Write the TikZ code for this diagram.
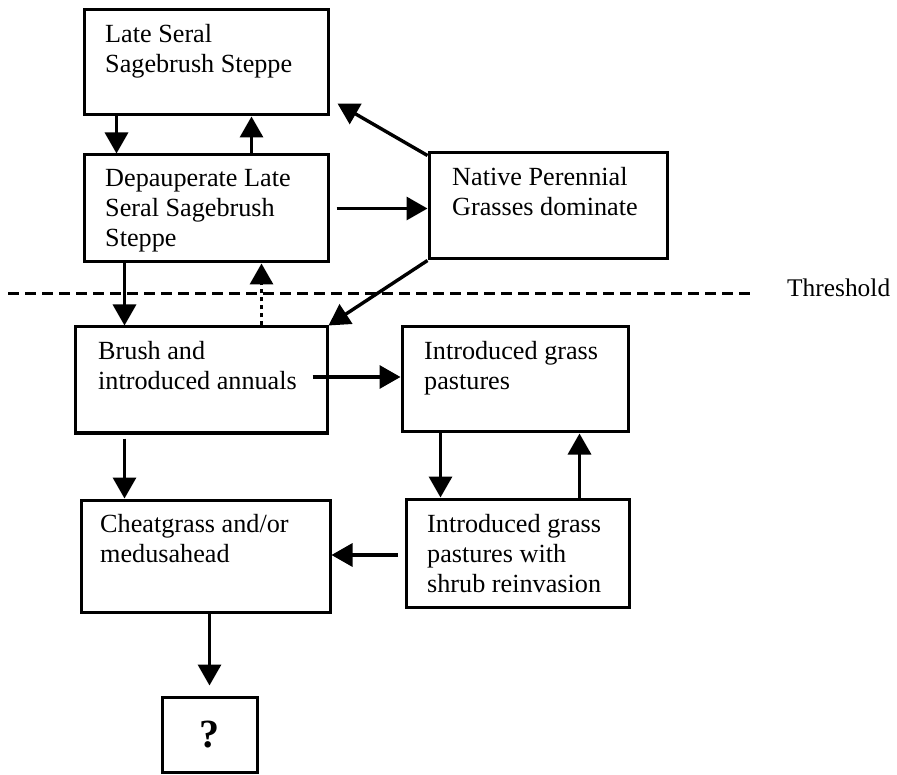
\documentclass[tikz,border=0pt]{standalone}
\usepackage{fontspec}
\setmainfont{Liberation Serif}
\usetikzlibrary{arrows.meta}

\begin{document}
\begin{tikzpicture}
[x=1pt,y=-1pt,
 bx/.style={draw,line width=3pt,inner sep=0pt},
 tx/.style={anchor=north west,align=left,inner sep=0pt,font=\fontsize{26.2}{30}\selectfont,execute at begin node=\strut},
 ar/.style={-{Triangle[length=21pt,width=23pt]},line width=3.4pt},
 dt/.style={ar,dash pattern=on 4pt off 4pt},
 th/.style={dash pattern=on 11pt off 6pt,line width=3pt}]
\useasboundingbox (0,0) rectangle (897,775);

\node [bx,minimum width=244pt,minimum height=105pt] at (206,62.5) (A) {};
\node [bx,minimum width=244pt,minimum height=107pt] at (206,208.5) (B) {};
\node [bx,minimum width=238pt,minimum height=106pt] at (548,206) (C) {};
\node [bx,minimum width=252pt,minimum height=106pt] at (201,380) (D) {};
\node [bx,minimum width=226pt,minimum height=105pt] at (515,379.5) (E) {};
\node [bx,minimum width=249pt,minimum height=112pt] at (205.5,556) (F) {};
\node [bx,minimum width=223pt,minimum height=108pt] at (517.5,553) (G) {};
\node [bx,minimum width=95pt,minimum height=75pt,font=\fontsize{40}{44}\selectfont\bfseries] at (209.5,734.5) (H) {?};

\node [tx] at (105,24) (At) {Late Seral\\Sagebrush Steppe};
\begin{scope}
\clip (84,155) rectangle (328,253);
\node [tx] at (105,169) (Bt) {Depauperate Late\\Seral Sagebrush\\Steppe};
\end{scope}
\node [tx] at (452,167) (Ct) {Native Perennial\\Grasses dominate};
\node [tx] at (98,341) (Dt) {Brush and\\introduced annuals};
\node [tx] at (424,341) (Et) {Introduced grass\\pastures};
\node [tx] at (100,514) (Ft) {Cheatgrass and/or\\medusahead};
\node [tx] at (427,514) (Gt) {Introduced grass\\pastures with\\shrub reinvasion};

% threshold line
\coordinate (tl) at (8,294);
\coordinate (tr) at (753,294);
\draw [th] (tl) -- (tr);
\node [anchor=west,inner sep=0pt,font=\fontsize{25.4}{30}\selectfont] at (787,288) (thr) {Threshold};

\draw [ar] ([xshift=34pt]A.south west) -- ([xshift=34pt]B.north west);
\draw [ar] ([xshift=169pt]B.north west) -- ([xshift=169pt]A.south west);
\draw [ar] ([yshift=-4pt]C.north west) -- ([shift={(8pt,13pt)}]A.south east);
\draw [ar] ([xshift=7pt]B.east) -- (B.east -| C.west);
\draw [ar] (C.south west) -- (D.north east);
\draw [ar] ([xshift=42pt]B.south west) -- ([xshift=42pt]B.south west |- D.north);
\draw [dt] ([xshift=179pt]B.south west |- D.north) -- ([xshift=179pt]B.south west);
\draw [ar] ([xshift=-16pt,yshift=3pt]D.east) -- ([yshift=3pt]D.east -| E.west);
\draw [ar] ([xshift=51pt,yshift=-4pt]D.south west) -- ([xshift=51pt]D.south west |- F.north);
\draw [ar] ([xshift=40pt]E.south west) -- ([xshift=40pt]E.south west |- G.north);
\draw [ar] ([xshift=175pt]G.north west) -- ([xshift=175pt]G.north west |- E.south);
\draw [ar] ([xshift=-7pt,yshift=-2pt]G.west) -- ([yshift=-2pt]G.west -| F.east);
\draw [ar] (F.south -| H.north) -- ([yshift=10pt]H.north);
\end{tikzpicture}
\end{document}
